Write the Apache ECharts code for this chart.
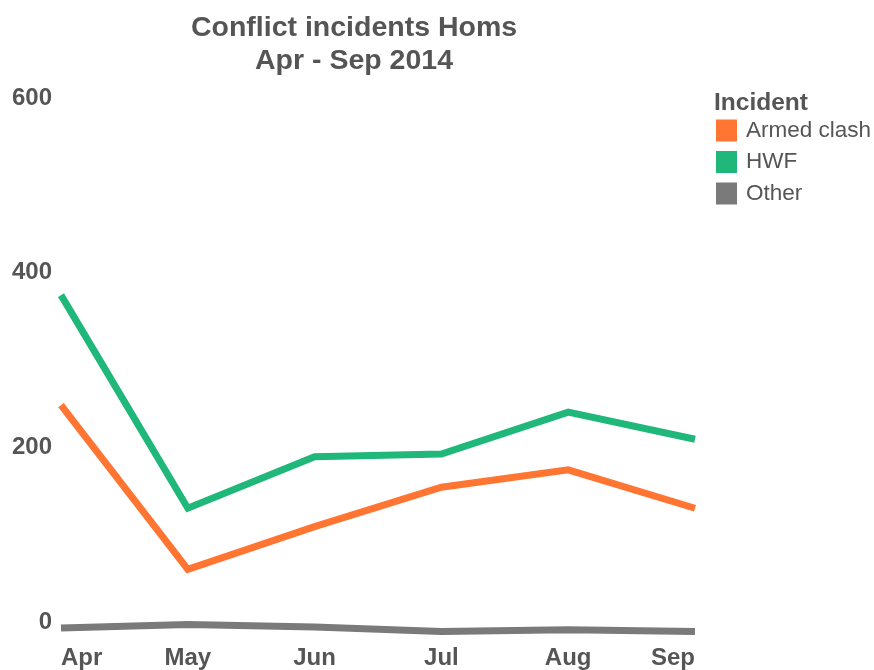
<!DOCTYPE html>
<html>
<head>
<meta charset="utf-8">
<title>Conflict incidents Homs</title>
<script src="https://cdn.jsdelivr.net/npm/echarts@6/dist/echarts.min.js"></script>
<style>
  html, body { margin: 0; padding: 0; background: #fff; }
  #chart { width: 874px; height: 670px; }
</style>
</head>
<body>
<div id="chart"></div>
<script>
// Monthly conflict incidents in Homs, April to September 2014
const months = ['Apr', 'May', 'Jun', 'Jul', 'Aug', 'Sep'];
const armedClash = [262, 74, 123, 168, 188, 144];
const hwf = [388, 144, 203, 206, 254, 223];
const other = [7, 11, 8, 3, 5, 3];
const yTicks = [0, 200, 400, 600];

const colors = { armed: '#ff7531', hwf: '#1fb77a', other: '#7a7a7a' };
const textColor = '#555555';
const fontFamily = '"Liberation Sans", Arial, sans-serif';

const chart = echarts.init(document.getElementById('chart'), null, { renderer: 'canvas' });

function lineSeries(name, data, color) {
  return {
    name: name,
    type: 'line',
    data: data,
    symbol: 'none',
    smooth: false,
    lineStyle: { width: 7, color: color, cap: 'butt', join: 'miter' },
    itemStyle: { color: color },
    emphasis: { disabled: true }
  };
}

chart.setOption({
  animation: false,
  textStyle: { fontFamily: fontFamily },
  title: [
    {
      text: 'Conflict incidents Homs\nApr - Sep 2014',
      left: 349,
      top: 7,
      textAlign: 'center',
      textStyle: { fontSize: 28.5, fontWeight: 'bold', color: textColor, lineHeight: 33, fontFamily: fontFamily }
    },
    {
      text: 'Incident',
      left: 709,
      top: 86,
      textStyle: { fontSize: 24.5, fontWeight: 'bold', color: textColor, fontFamily: fontFamily }
    }
  ],
  legend: {
    orient: 'vertical',
    left: 711,
    top: 114,
    icon: 'rect',
    itemWidth: 21,
    itemHeight: 22,
    itemGap: 8.5,
    selectedMode: false,
    textStyle: { fontSize: 22.5, lineHeight: 22, color: textColor, fontFamily: fontFamily, padding: [0, 0, 0, 4] },
    data: ['Armed clash', 'HWF', 'Other']
  },
  grid: { left: 61, right: 179, top: 110, bottom: 36, containLabel: false },
  xAxis: {
    type: 'category',
    data: months,
    boundaryGap: false,
    axisLine: { show: false },
    axisTick: { show: false },
    splitLine: { show: false },
    axisLabel: {
      color: textColor,
      fontSize: 24,
      fontWeight: 'bold',
      fontFamily: fontFamily,
      margin: 12,
      interval: 0,
      alignMinLabel: 'left',
      alignMaxLabel: 'right'
    }
  },
  yAxis: {
    type: 'value',
    min: yTicks[0],
    max: yTicks[yTicks.length - 1],
    interval: yTicks[1] - yTicks[0],
    axisLine: { show: false },
    axisTick: { show: false },
    splitLine: { show: false },
    axisLabel: {
      color: textColor,
      fontSize: 24,
      fontWeight: 'bold',
      fontFamily: fontFamily,
      margin: 9,
      verticalAlign: 'bottom'
    }
  },
  series: [
    lineSeries('Armed clash', armedClash, colors.armed),
    lineSeries('HWF', hwf, colors.hwf),
    lineSeries('Other', other, colors.other)
  ]
});
</script>
</body>
</html>
